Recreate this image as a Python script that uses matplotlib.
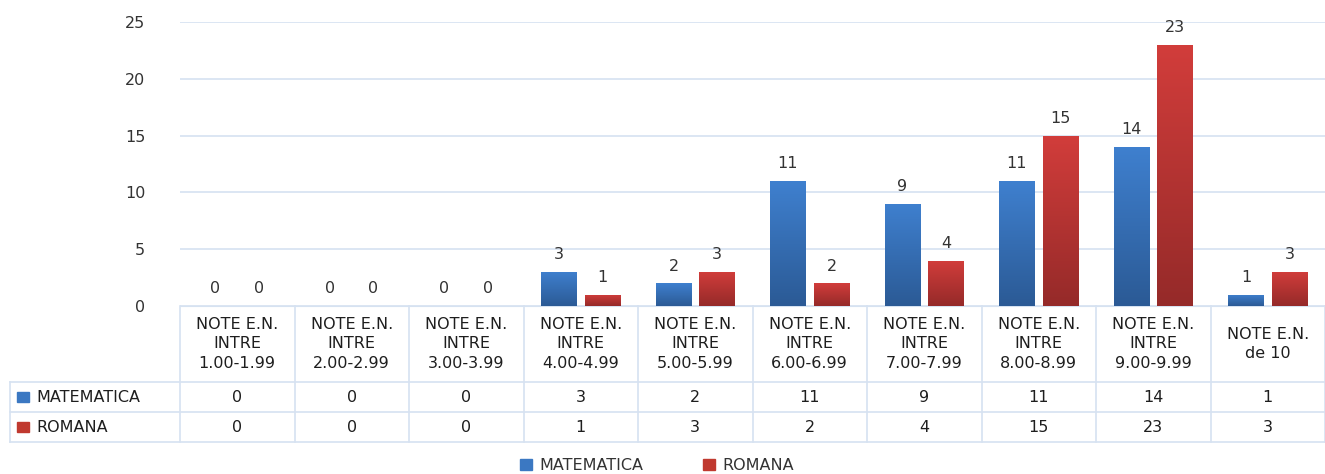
import numpy as np
import matplotlib
matplotlib.use("Agg")
import matplotlib.pyplot as plt
import matplotlib.transforms as mtransforms
from matplotlib.lines import Line2D
from matplotlib.patches import Rectangle

# data
categories = ["NOTE E.N.\nINTRE\n1.00-1.99", "NOTE E.N.\nINTRE\n2.00-2.99",
              "NOTE E.N.\nINTRE\n3.00-3.99", "NOTE E.N.\nINTRE\n4.00-4.99",
              "NOTE E.N.\nINTRE\n5.00-5.99", "NOTE E.N.\nINTRE\n6.00-6.99",
              "NOTE E.N.\nINTRE\n7.00-7.99", "NOTE E.N.\nINTRE\n8.00-8.99",
              "NOTE E.N.\nINTRE\n9.00-9.99", "NOTE E.N.\nde 10"]
series_names = ["MATEMATICA", "ROMANA"]
matematica = [0, 0, 0, 3, 2, 11, 9, 11, 14, 1]
romana = [0, 0, 0, 1, 3, 2, 4, 15, 23, 3]
y_ticks = [0, 5, 10, 15, 20, 25]

# styling
W, H = 1325, 474
plt.rcParams['font.family'] = ['DejaVu Sans']
txt = "#333333"
cell_txt = "#1e1e1e"
grid_c = "#d6e2f1"
fs = 11.5
grads = [("#3f80cf", "#2b5a95"), ("#d23d3b", "#952a29")]
legend_cols = ["#3b78c2", "#c0392f"]

fig = plt.figure(figsize=(W / 100, H / 100), dpi=100)
ax = fig.add_axes([180 / W, 1 - 306 / H, 1145 / W, (306 - 22) / H])

x = np.arange(len(categories))
bw = 0.31
offs = [-0.19, 0.19]
for vals, off, (top, bot) in zip([matematica, romana], offs, grads):
    bars = ax.bar(x + off, vals, width=bw, color=top, zorder=3)
    cmap = matplotlib.colors.LinearSegmentedColormap.from_list("g", [bot, top])
    grad = np.linspace(0, 1, 256).reshape(-1, 1)
    for b, v in zip(bars, vals):
        if v > 0:
            im = ax.imshow(grad, cmap=cmap, origin="lower", aspect="auto",
                           extent=[b.get_x(), b.get_x() + b.get_width(), 0, v],
                           zorder=4)
            im.set_clip_path(b)
        ax.annotate(str(v), (b.get_x() + b.get_width() / 2, v),
                    xytext=(0, 7), textcoords="offset points",
                    ha="center", va="bottom", fontsize=fs, color=txt)

ax.set_xlim(-0.5, len(categories) - 0.5)
ax.set_ylim(0, 25)
ax.set_yticks(y_ticks)
ax.set_xticks([])
ax.tick_params(axis="y", length=0, pad=25, labelsize=fs, labelcolor=txt)
for s in ["left", "right", "top"]:
    ax.spines[s].set_visible(False)
ax.spines["bottom"].set_color(grid_c)
ax.yaxis.grid(True, color=grid_c, linewidth=1.2, zorder=0)
ax.set_axisbelow(True)

# table below the plot
def fy(py):
    return 1 - py / H

bt = mtransforms.blended_transform_factory(ax.transData, fig.transFigure)
for i in range(len(categories) + 1):
    xb = i - 0.5
    fig.add_artist(Line2D([xb, xb], [fy(306), fy(442)], transform=bt,
                          color=grid_c, lw=1.2))
for py in [382, 412, 442]:
    fig.add_artist(Line2D([10 / W, 1], [fy(py), fy(py)],
                          transform=fig.transFigure, color=grid_c, lw=1.2))
fig.add_artist(Line2D([10 / W, 10 / W], [fy(382), fy(442)],
                      transform=fig.transFigure, color=grid_c, lw=1.2))

for i, c in enumerate(categories):
    fig.text(i, fy(344), c, transform=bt, ha="center", va="center",
             fontsize=fs, color=cell_txt, linespacing=1.4)
    fig.text(i, fy(397), str(matematica[i]), transform=bt, ha="center",
             va="center", fontsize=fs, color=cell_txt)
    fig.text(i, fy(427), str(romana[i]), transform=bt, ha="center",
             va="center", fontsize=fs, color=cell_txt)

for py, name, col in zip([397, 427], series_names, legend_cols):
    fig.add_artist(Rectangle((17 / W, fy(py + 5)), 12 / W, 10 / H,
                             transform=fig.transFigure, color=col))
    fig.text(36 / W, fy(py), name, ha="left", va="center", fontsize=fs,
             color=cell_txt)

# legend at the bottom
for px, name, col in zip([520, 703], series_names, legend_cols):
    fig.add_artist(Rectangle((px / W, fy(470)), 12 / W, 11 / H,
                             transform=fig.transFigure, color=col))
    fig.text((px + 19) / W, fy(465), name, ha="left", va="center",
             fontsize=fs, color=txt)

fig.savefig("out.png", dpi=100)
